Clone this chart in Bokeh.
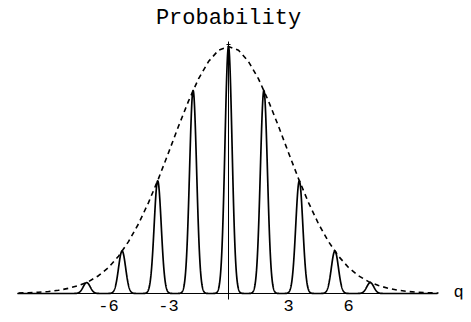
import numpy as np
from bokeh.plotting import figure
from bokeh.models import Range1d, FixedTicker
from bokeh.core.properties import value
from bokeh.embed import file_html
from bokeh.resources import INLINE

# ---- data ----
title_text = "Probability"
x_label = "q"
x_ticks = [-6, -3, 3, 6]
x_tick_labels = ["-6", "-3", "3", "6"]

# peak centres (q) and peak heights (relative probability)
peak_q = [-7.09, -5.32, -3.54, -1.77, 0.0, 1.77, 3.54, 5.32, 7.09]
peak_p = [0.044, 0.172, 0.456, 0.822, 1.0, 0.822, 0.456, 0.172, 0.044]
peak_sigma = 0.177

# dashed envelope, read at half-unit steps
env_q = [-10.5, -10.0, -9.5, -9.0, -8.5, -8.0, -7.5, -7.0, -6.5, -6.0, -5.5,
         -5.0, -4.5, -4.0, -3.5, -3.0, -2.5, -2.0, -1.5, -1.0, -0.5, 0.0,
         0.5, 1.0, 1.5, 2.0, 2.5, 3.0, 3.5, 4.0, 4.5, 5.0, 5.5, 6.0, 6.5,
         7.0, 7.5, 8.0, 8.5, 9.0, 9.5, 10.0, 10.5]
env_p = [0.002, 0.003, 0.005, 0.008, 0.013, 0.021, 0.032, 0.048, 0.072, 0.105, 0.151,
         0.210, 0.282, 0.368, 0.465, 0.570, 0.677, 0.779, 0.869, 0.939, 0.985, 1.000,
         0.985, 0.939, 0.869, 0.779, 0.677, 0.570, 0.465, 0.368, 0.282, 0.210, 0.151,
         0.105, 0.072, 0.048, 0.032, 0.021, 0.013, 0.008, 0.005, 0.003, 0.002]

# ---- axis extents ----
axis_q0, axis_q1 = -10.55, 10.45
x0, x1 = -11.4, 12.15
y0, y1 = -0.0243, 1.1862

# ---- curve of the peaks ----
q = np.linspace(axis_q0, axis_q1, 4201)
prob = np.zeros_like(q)
for c, h in zip(peak_q, peak_p):
    prob += h * np.exp(-(q - c) ** 2 / (2 * peak_sigma ** 2))

p = figure(width=471, height=322,
           x_range=Range1d(x0, x1), y_range=Range1d(y0, y1),
           output_backend="svg", toolbar_location=None,
           min_border_left=0, min_border_right=0,
           min_border_top=0, min_border_bottom=23)
p.outline_line_color = None
p.grid.visible = False
p.background_fill_color = "white"
p.border_fill_color = "white"
p.yaxis.visible = False

ax = p.xaxis[0]
ax.ticker = FixedTicker(ticks=x_ticks)
ax.major_label_overrides = {t: s for t, s in zip(x_ticks, x_tick_labels)}
ax.axis_line_color = None
ax.major_tick_line_color = None
ax.minor_tick_line_color = None
ax.major_tick_out = 0
ax.major_tick_in = 0
ax.minor_tick_out = 0
ax.minor_tick_in = 0
ax.major_label_text_font = "Liberation Mono"
ax.major_label_text_font_size = "17px"
ax.major_label_text_color = "black"
ax.major_label_standoff = 0

# axes lines
p.segment(x0=[axis_q0], y0=[0], x1=[axis_q1], y1=[0], line_color="black", line_width=1)
p.segment(x0=[0], y0=[-0.0283], x1=[0], y1=[1.02], line_color="black", line_width=1)
p.segment(x0=[-0.1], y0=[1.008], x1=[0.1], y1=[1.008], line_color="black", line_width=1)

# envelope and peaks
p.line(env_q, env_p, line_color="black", line_width=1.6, line_dash="5 4")
p.line(q, prob, line_color="black", line_width=1.7)

# title and axis label
p.text(x=[0], y=[1.1134], text=[title_text], text_font=value("Liberation Mono"),
       text_font_size="22px", text_align="center", text_baseline="alphabetic",
       text_color="black")
p.text(x=[11.25], y=[0.004], text=[x_label], text_font=value("Liberation Mono"),
       text_font_size="17px", text_align="left", text_baseline="alphabetic",
       text_color="black")

open("out.html", "w").write(file_html(p, INLINE))
